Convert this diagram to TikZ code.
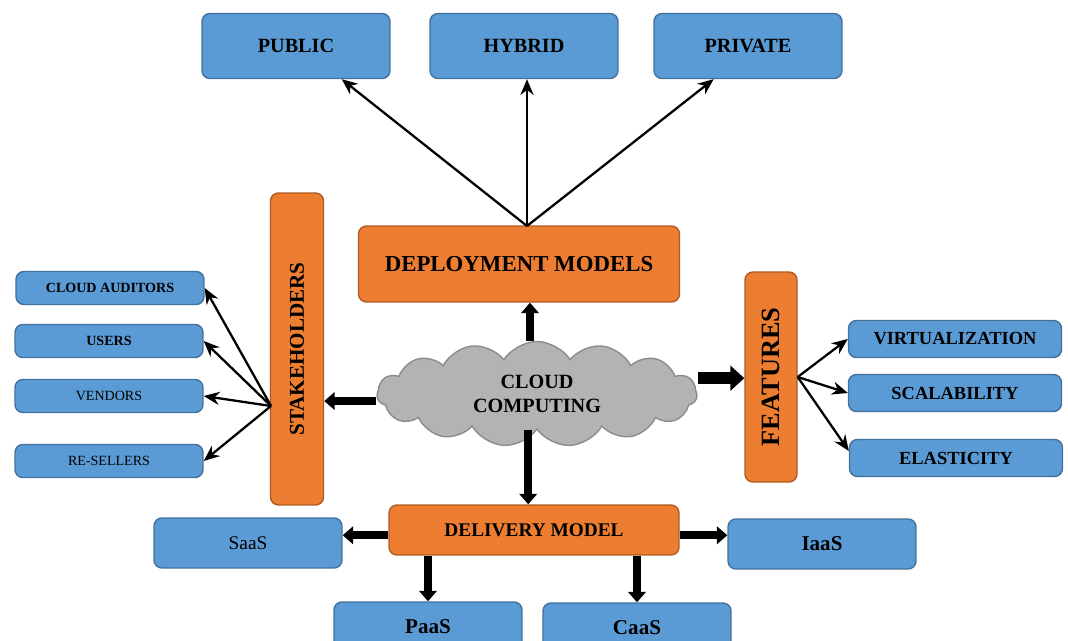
\documentclass[tikz,border=0pt]{standalone}
\usepackage{fontspec}
\setmainfont{Liberation Serif}
\usetikzlibrary{arrows.meta,shapes.symbols}
\definecolor{leafblue}{HTML}{5B9BD5}
\definecolor{leafedge}{HTML}{41719C}
\definecolor{hub}{HTML}{ED7D31}
\definecolor{hubedge}{HTML}{AE5A21}
\definecolor{cloudfill}{HTML}{B3B3B3}
\definecolor{cloudedge}{HTML}{8C8C8C}

\begin{document}
\begin{tikzpicture}[
    x=0.02cm, y=-0.02cm,
    leaf/.style={rectangle, rounded corners=4.5pt, draw=leafedge, fill=leafblue,
                 line width=0.8pt, inner sep=0pt, minimum width=3.76cm},
    hubbox/.style={rectangle, rounded corners=4.5pt, draw=hubedge, fill=hub,
                   line width=0.8pt, inner sep=0pt},
    topbox/.style={leaf, minimum height=1.3cm, font=\bfseries\fontsize{11.5}{13}\selectfont},
    sidebox/.style={leaf, minimum height=0.66cm, font=\fontsize{8}{9}\selectfont},
    featbox/.style={leaf, minimum width=4.26cm, minimum height=0.74cm,
                    font=\bfseries\fontsize{10.5}{12}\selectfont},
    servbox/.style={leaf, minimum height=1cm, font=\bfseries\fontsize{12}{14}\selectfont},
    spoke/.style={-{Stealth[length=9pt,width=7.5pt]}, line width=1.3pt},
    pipe/.style={-{Triangle[length=6pt,width=10pt]}, line width=4.5pt},
]
\useasboundingbox (0,0) rectangle (1068,641);
\fill[white] (0,0) rectangle (1068,641);
\clip (0,0) rectangle (1068,641);

% ---- centre ----
\node[cloud, cloud puffs=15, cloud puff arc=115, aspect=3,
      draw=cloudedge, fill=cloudfill, line width=0.8pt,
      minimum width=6.4cm, minimum height=2.1cm, align=center,
      font=\bfseries\fontsize{11.5}{13.6}\selectfont] (cc) at (537,394) {CLOUD\\COMPUTING};

% ---- deployment models ----
\node[hubbox, minimum width=6.42cm, minimum height=1.52cm,
      font=\bfseries\fontsize{13}{15}\selectfont] (dep) at (519,264) {DEPLOYMENT MODELS};
\node[topbox] (pub)  at (296,46) {PUBLIC};
\node[topbox] (hyb)  at (524,46) {HYBRID};
\node[topbox] (priv) at (748,46) {PRIVATE};
\coordinate (dtop) at (527,226);
\draw[spoke] (dtop) -- (pub.-36);
\draw[spoke] (dtop) -- (dtop |- hyb.south);
\draw[spoke] (dtop) -- (priv.-136);
\draw[pipe] ([xshift=-4pt]cc.north) -- ([xshift=-4pt]cc.north |- dep.south);

% ---- stakeholders ----
\node[hubbox, rotate=90, minimum width=6.24cm, minimum height=1.06cm,
      font=\bfseries\fontsize{12}{14}\selectfont] (stake) at (297,349) {STAKEHOLDERS};
\node[sidebox, font=\bfseries\fontsize{8}{9}\selectfont] (aud) at (110,288) {CLOUD AUDITORS};
\node[sidebox, font=\bfseries\fontsize{8}{9}\selectfont] (usr) at (109,341) {USERS};
\node[sidebox] (ven) at (109,396) {VENDORS};
\node[sidebox] (res) at (109,461) {RE-SELLERS};
\coordinate (sfan) at (271,406);
\draw[spoke] (sfan) -- (aud.east);
\draw[spoke] (sfan) -- (usr.east);
\draw[spoke] (sfan) -- (ven.east);
\draw[spoke] (sfan) -- (res.east);
\draw[pipe] ([yshift=-4pt]cc.west) -- ([yshift=-4pt]cc.west -| stake.south);

% ---- features ----
\node[hubbox, rotate=90, minimum width=4.2cm, minimum height=1.04cm,
      font=\bfseries\fontsize{15}{17}\selectfont] (feat) at (771,377) {FEATURES};
\node[featbox] (virt) at (955,339) {VIRTUALIZATION};
\node[featbox] (scal) at (955,393) {SCALABILITY};
\node[featbox] (elas) at (956,458) {ELASTICITY};
\draw[spoke] (feat.south) -- (virt.west);
\draw[spoke] (feat.south) -- (scal.west);
\draw[spoke] (feat.south) -- ([yshift=4pt]elas.west);
\draw[-{Triangle[length=8pt,width=14pt]}, line width=6.5pt]
    ([yshift=9pt]cc.east) -- ([yshift=9pt]cc.east -| feat.north);

% ---- delivery model ----
\node[hubbox, minimum width=5.8cm, minimum height=1cm,
      font=\bfseries\fontsize{11}{13}\selectfont] (del) at (534,530) {DELIVERY MODEL};
\node[servbox, font=\fontsize{11}{13}\selectfont] (saas) at (248,543) {SaaS};
\node[servbox] (iaas) at (822,544) {IaaS};
\node[servbox] (paas) at (428,627) {PaaS};
\node[servbox] (caas) at (637,628) {CaaS};
\draw[pipe] ([xshift=-5pt]cc.south) -- ([xshift=-5pt]cc.south |- del.north);
\draw[pipe] ([yshift=-3pt]del.west) -- ([yshift=-3pt]del.west -| saas.east);
\draw[pipe] ([yshift=-3pt]del.east) -- ([yshift=-3pt]del.east -| iaas.west);
\draw[pipe] (del.south -| paas.north) -- (paas.north);
\draw[pipe] (del.south -| caas.north) -- (caas.north);
\end{tikzpicture}
\end{document}
